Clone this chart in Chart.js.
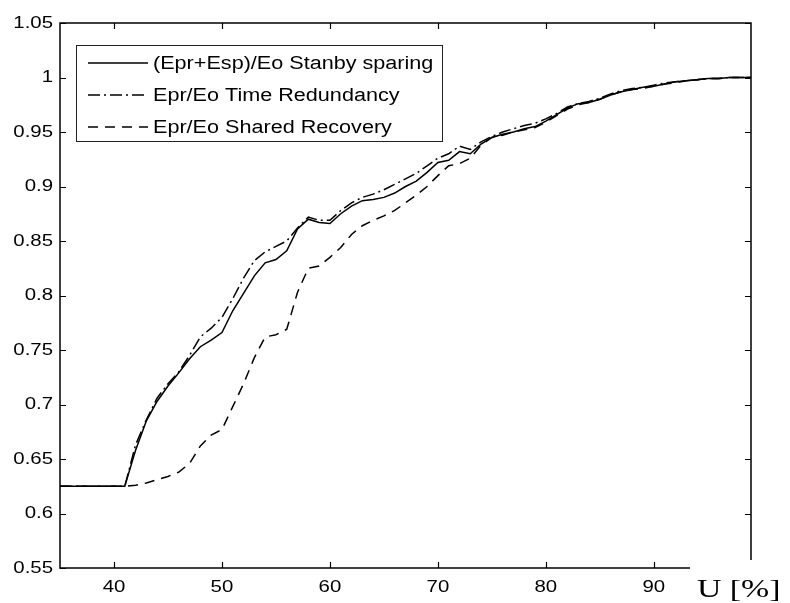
<!DOCTYPE html>
<html>
<head>
<meta charset="utf-8">
<script src="https://cdn.jsdelivr.net/npm/chart.js@4.4.0/dist/chart.umd.min.js"></script>
<style>
  html, body { margin: 0; padding: 0; background: #fff; }
  #wrap { position: relative; width: 790px; height: 603px; }
</style>
</head>
<body>
<div id="wrap"><canvas id="chart" width="790" height="603"></canvas></div>
<script>
// U [%] values shared by all three curves
const uValues = [35, 41, 42, 43, 44, 45, 46, 47, 48, 49, 50, 51, 52, 53, 54, 55, 56, 57, 58, 59, 60,
  61, 62, 63, 64, 65, 66, 67, 68, 69, 70, 71, 72, 73, 74, 75, 76, 77, 78, 79, 80,
  81, 82, 83, 84, 85, 86, 87, 88, 89, 90, 91, 92, 93, 94, 95, 96, 97, 98, 99];

const standby = [0.625, 0.625, 0.658, 0.685, 0.703, 0.717, 0.729, 0.742, 0.753, 0.759, 0.766,
  0.786, 0.802, 0.818, 0.830, 0.833, 0.841, 0.861, 0.870, 0.867, 0.866,
  0.875, 0.882, 0.887, 0.888, 0.890, 0.894, 0.900, 0.905, 0.913, 0.922,
  0.924, 0.932, 0.930, 0.939, 0.945, 0.948, 0.950, 0.953, 0.955, 0.960,
  0.966, 0.972, 0.976, 0.977, 0.980, 0.984, 0.987, 0.989, 0.991, 0.992,
  0.994, 0.996, 0.997, 0.998, 0.999, 0.999, 1.000, 1.000, 1.000];

const timeRed = [0.625, 0.625, 0.663, 0.686, 0.706, 0.719, 0.730, 0.745, 0.762, 0.770, 0.780,
  0.797, 0.816, 0.832, 0.840, 0.845, 0.850, 0.862, 0.872, 0.869, 0.869,
  0.878, 0.885, 0.890, 0.893, 0.897, 0.902, 0.907, 0.912, 0.919, 0.926,
  0.930, 0.937, 0.934, 0.941, 0.946, 0.950, 0.953, 0.956, 0.958, 0.962,
  0.967, 0.973, 0.976, 0.978, 0.981, 0.985, 0.988, 0.990, 0.991, 0.993,
  0.995, 0.996, 0.997, 0.998, 0.999, 0.999, 1.000, 1.000, 1.000];

const sharedRec = [0.625, 0.625, 0.626, 0.628, 0.631, 0.634, 0.638, 0.646, 0.662, 0.672, 0.677,
  0.698, 0.719, 0.743, 0.762, 0.764, 0.769, 0.803, 0.825, 0.827, 0.835,
  0.844, 0.856, 0.864, 0.869, 0.873, 0.878, 0.885, 0.892, 0.900, 0.910,
  0.919, 0.921, 0.926, 0.938, 0.945, 0.947, 0.950, 0.952, 0.954, 0.959,
  0.965, 0.971, 0.975, 0.977, 0.980, 0.984, 0.987, 0.989, 0.990, 0.992,
  0.994, 0.995, 0.997, 0.998, 0.999, 0.999, 1.000, 1.000, 1.000];

const seriesLabels = ['(Epr+Esp)/Eo Stanby sparing', 'Epr/Eo Time Redundancy', 'Epr/Eo Shared Recovery'];
const xTicks = [40, 50, 60, 70, 80, 90];
const yTicks = [0.55, 0.6, 0.65, 0.7, 0.75, 0.8, 0.85, 0.9, 0.95, 1, 1.05];

const toPoints = arr => arr.map((v, i) => ({ x: uValues[i], y: v }));

// the scan is a bit stretched sideways, so text gets drawn wider than the font
function wideText(ctx, txt, x, y, align, sx) {
  const w = ctx.measureText(txt).width * sx;
  let x0 = x;
  if (align === 'right') x0 = x - w;
  if (align === 'center') x0 = x - w / 2;
  ctx.save();
  ctx.translate(x0, y);
  ctx.scale(sx, 1);
  ctx.textAlign = 'left';
  ctx.fillText(txt, 0, 0);
  ctx.restore();
}

// matlab style box, inward ticks, labels, legend
const framePlugin = {
  id: 'frame',
  afterDraw(chart) {
    const ctx = chart.ctx;
    const a = chart.chartArea;
    const xs = chart.scales.x, ys = chart.scales.y;
    const t = 6;
    ctx.save();
    ctx.strokeStyle = '#000';
    ctx.lineWidth = 1.5;
    ctx.strokeRect(a.left, a.top, a.right - a.left, a.bottom - a.top);
    ctx.beginPath();
    xTicks.forEach(v => {
      const px = Math.round(xs.getPixelForValue(v)) + 0.5;
      ctx.moveTo(px, a.bottom); ctx.lineTo(px, a.bottom - t);
      ctx.moveTo(px, a.top); ctx.lineTo(px, a.top + t);
    });
    yTicks.forEach(v => {
      const py = Math.round(ys.getPixelForValue(v)) + 0.5;
      ctx.moveTo(a.left, py); ctx.lineTo(a.left + t, py);
      ctx.moveTo(a.right, py); ctx.lineTo(a.right - t, py);
    });
    ctx.lineWidth = 1.2;
    ctx.stroke();

    // tick labels
    ctx.fillStyle = '#000';
    ctx.font = '17px "Liberation Sans", Arial, sans-serif';
    ctx.textBaseline = 'middle';
    yTicks.forEach(v => {
      wideText(ctx, String(v), a.left - 7, ys.getPixelForValue(v), 'right', 1.2);
    });
    xTicks.forEach(v => {
      wideText(ctx, String(v), xs.getPixelForValue(v), a.bottom + 19, 'center', 1.2);
    });

    // legend
    const lx = 76.5, ly = 45.5, lw = 366, lh = 96;
    ctx.fillStyle = '#fff';
    ctx.fillRect(lx, ly, lw, lh);
    ctx.lineWidth = 1;
    ctx.strokeStyle = '#222';
    ctx.strokeRect(lx, ly, lw, lh);
    ctx.font = '18px "Liberation Sans", Arial, sans-serif';
    ctx.textBaseline = 'middle';
    chart.data.datasets.forEach((ds, i) => {
      const y = 63 + i * 32;
      ctx.beginPath();
      ctx.setLineDash(ds.borderDash || []);
      ctx.lineWidth = 1.3;
      ctx.strokeStyle = '#000';
      ctx.moveTo(88, y); ctx.lineTo(148, y);
      ctx.stroke();
      ctx.setLineDash([]);
      ctx.fillStyle = '#000';
      wideText(ctx, ds.label, 153, y + 1, 'left', 1.2);
    });

    // blank corner with the axis label
    ctx.fillStyle = '#fff';
    ctx.fillRect(690, 560, 100, 43);
    ctx.fillStyle = '#000';
    ctx.font = '26px "Liberation Serif", "Times New Roman", serif';
    ctx.textBaseline = 'alphabetic';
    wideText(ctx, 'U [%]', 697, 597, 'left', 1.3);
    ctx.restore();
  }
};

new Chart(document.getElementById('chart'), {
  type: 'line',
  data: {
    datasets: [
      { label: seriesLabels[0], data: toPoints(standby), borderColor: '#000', borderWidth: 1.5, borderDash: [] },
      { label: seriesLabels[1], data: toPoints(timeRed), borderColor: '#000', borderWidth: 1.5, borderDash: [12, 4, 2, 4] },
      { label: seriesLabels[2], data: toPoints(sharedRec), borderColor: '#000', borderWidth: 1.5, borderDash: [10, 7] }
    ]
  },
  options: {
    responsive: false,
    animation: false,
    elements: { point: { radius: 0 }, line: { tension: 0 } },
    layout: { padding: { top: 23, right: 39, left: 0, bottom: 0 } },
    plugins: { legend: { display: false }, tooltip: { enabled: false } },
    scales: {
      x: {
        type: 'linear',
        min: 35,
        max: 99,
        grid: { display: false, drawTicks: false },
        border: { display: false },
        ticks: { display: false },
        afterFit: s => { s.height = 35; }
      },
      y: {
        min: 0.55,
        max: 1.05,
        grid: { display: false, drawTicks: false },
        border: { display: false },
        ticks: { display: false, stepSize: 0.05 },
        afterFit: s => { s.width = 60; }
      }
    }
  },
  plugins: [framePlugin]
});
</script>
</body>
</html>
